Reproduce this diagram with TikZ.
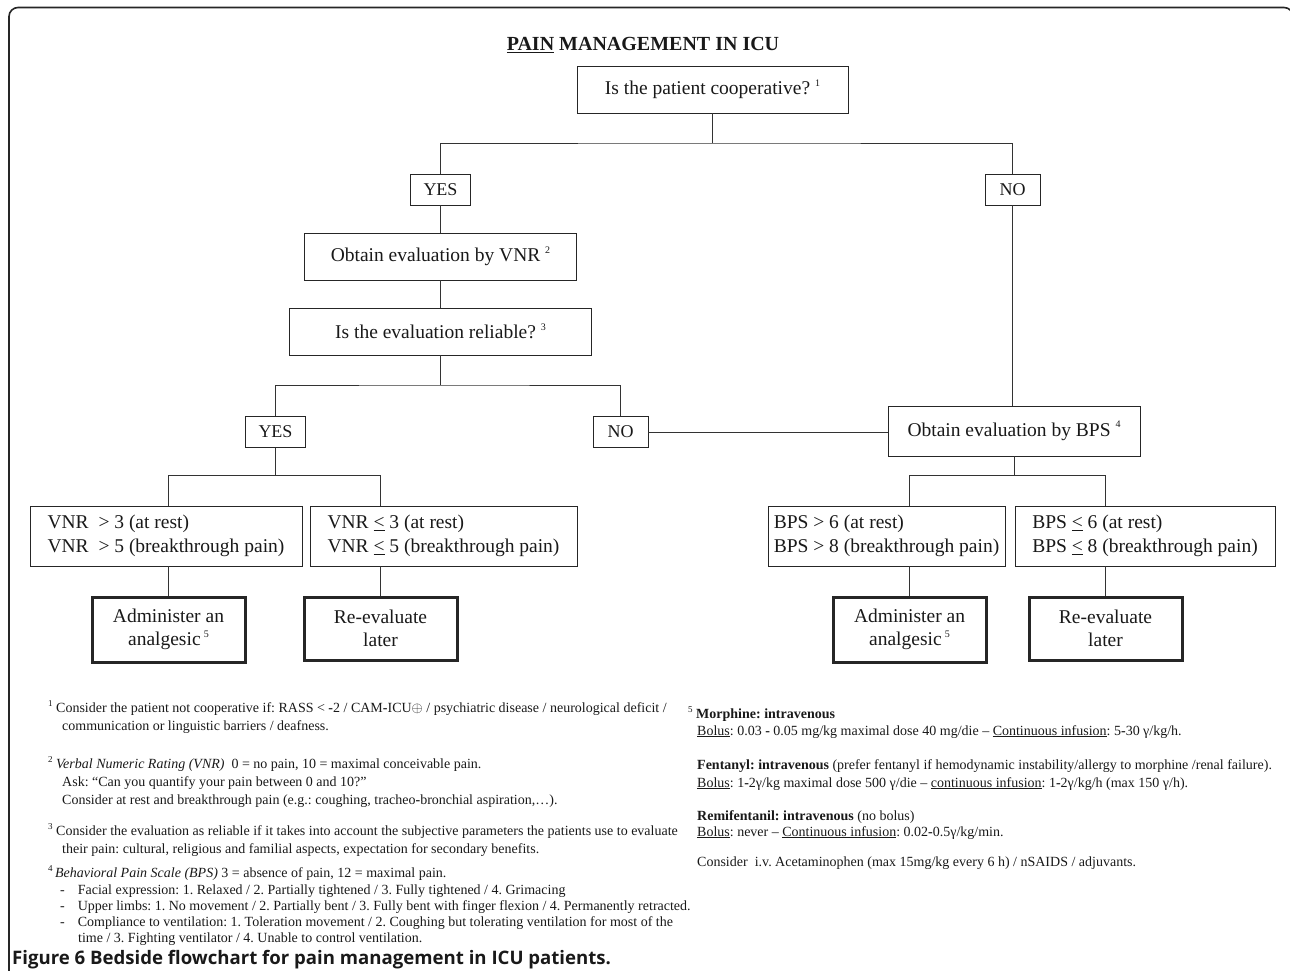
\documentclass[tikz,border=0pt]{standalone}
\usepackage{fontspec}
\setmainfont{Liberation Serif}
\newfontfamily\capfont{Open Sans}
\newcommand\boxsup[1]{\raisebox{8.5pt}{\fontsize{10}{10}\selectfont #1}}
\newcommand\fnsup[1]{\raisebox{5.5pt}{\fontsize{9}{9}\selectfont #1}}
\frenchspacing
\begin{document}
\begin{tikzpicture}[x=1pt,y=-1pt,
  box/.style={draw=black!85, line width=0.9pt, inner sep=0pt, align=center,
    font=\fontsize{19.5}{23.5}\selectfont, text=black!90},
  thickbox/.style={box, line width=3pt},
  yn/.style={box, font=\fontsize{18}{22}\selectfont},
  conn/.style={draw=black!80, line width=0.9pt},
  fnt/.style={anchor=base west, inner sep=0pt, font=\fontsize{14}{17}\selectfont, text=black!90}]
\useasboundingbox (0,0) rectangle (1290,970);
% frame
\draw[line width=1.6pt, black!85, rounded corners=9] (9,980) -- (9,7.5) -- (1293,7.5) -- (1293,980);
% title
\node[inner sep=0pt, font=\bfseries\fontsize{20}{24}\selectfont, text=black!90] (title) at (643,45) {\underline{PAIN} MANAGEMENT IN ICU};
% boxes
\node[box, minimum width=271, minimum height=47] (A) at (712.5,89.5) {Is the patient cooperative? \boxsup{1}};
\node[yn, minimum width=60, minimum height=31] (YES1) at (440.5,189.5) {YES};
\node[yn, minimum width=55, minimum height=31] (NO1) at (1012.5,189.5) {NO};
\node[box, minimum width=272, minimum height=47] (VNR) at (440.5,256.5) {Obtain evaluation by VNR \boxsup{2}};
\node[box, minimum width=302, minimum height=47] (REL) at (440.5,331.5) {Is the evaluation reliable? \boxsup{3}};
\node[yn, minimum width=60, minimum height=31] (YES2) at (275.5,432) {YES};
\node[yn, minimum width=55, minimum height=31] (NO2) at (620.5,432) {NO};
\node[box, minimum width=252, minimum height=50] (BPS) at (1014,431) {Obtain evaluation by BPS \boxsup{4}};
\node[box, minimum width=272, minimum height=60, align=left] (C1) at (166,536) {VNR\ \ > 3 (at rest)\\VNR\ \ > 5 (breakthrough pain)};
\node[box, minimum width=267, minimum height=60, align=left] (C2) at (443.5,536) {VNR \underline{<} 3 (at rest)\\VNR \underline{<} 5 (breakthrough pain)};
\node[box, minimum width=237, minimum height=60, align=left] (C3) at (886.5,536) {BPS > 6 (at rest)\\BPS > 8 (breakthrough pain)};
\node[box, minimum width=260, minimum height=60, align=left] (C4) at (1145,536) {BPS \underline{<} 6 (at rest)\\BPS \underline{<} 8 (breakthrough pain)};
\node[thickbox, minimum width=153, minimum height=65] (D1) at (168.5,629.5) {Administer an\\analgesic\,\boxsup{5}};
\node[thickbox, minimum width=153, minimum height=63] (D2) at (380.5,628.5) {Re-evaluate\\later};
\node[thickbox, minimum width=153, minimum height=65] (D3) at (909.5,629.5) {Administer an\\analgesic\,\boxsup{5}};
\node[thickbox, minimum width=153, minimum height=63] (D4) at (1105.5,628.5) {Re-evaluate\\later};
% connectors
\coordinate (j1) at (712.5,143);
\coordinate (j2) at (440.5,385);
\coordinate (j3) at (1010,475);
\coordinate (j4) at (275.5,475);
\draw[conn] (A.south) -- (j1);
\draw[conn] (YES1.north) |- (j1) -| (NO1.north);
\draw[conn] (YES1.south) -- (VNR.north);
\draw[conn] (VNR.south) -- (REL.north);
\draw[conn] (REL.south) -- (j2);
\draw[conn] (YES2.north) |- (j2) -| (NO2.north);
\draw[conn] (NO2.east) -- (NO2.east -| BPS.west);
\draw[conn] (NO1.south) -- (NO1.south |- BPS.north);
\draw[conn] (BPS.south) -- (BPS.south |- j3);
\draw[conn] (D3.north |- j3) -- (D4.north |- j3);
\draw[conn] (YES2.south) -- (j4);
\draw[conn] (D1.north |- j4) -- (D2.north |- j4);
\foreach \d/\c/\j in {D1/C1/j4, D2/C2/j4, D3/C3/j3, D4/C4/j3}{
  \draw[conn] (\d.north |- \j) -- (\d.north |- \c.north);
  \draw[conn] (\d.north |- \c.south) -- (\d.north);
}
% footnotes left
\node[fnt] (f1a) at (48,712) {\fnsup{1} Consider the patient not cooperative if: RASS < \textbf{-}2 / CAM\textbf{-}ICU$\oplus$ / psychiatric disease / neurological deficit /};
\node[fnt] (f1b) at (62,730) {communication or linguistic barriers / deafness.};
\node[fnt] (f2a) at (48,768) {\fnsup{2} \textit{Verbal Numeric Rating (VNR)}\ \ 0 = no pain, 10 = maximal conceivable pain.};
\node[fnt] (f2b) at (62,786) {Ask: “Can you quantify your pain between 0 and 10?”};
\node[fnt] (f2c) at (62,804) {Consider at rest and breakthrough pain (e.g.: coughing, tracheo\textbf{-}bronchial aspiration,…).};
\node[fnt] (f3a) at (48,835) {\fnsup{3} Consider the evaluation as reliable if it takes into account the subjective parameters the patients use to evaluate};
\node[fnt] (f3b) at (62,853) {their pain: cultural, religious and familial aspects, expectation for secondary benefits.};
\node[fnt] (f4a) at (48,877) {\fnsup{4}\,\textit{Behavioral Pain Scale (BPS)} 3 = absence of pain, 12 = maximal pain.};
\node[fnt] (f4b) at (60,894) {-\hspace{13pt}Facial expression: 1. Relaxed / 2. Partially tightened / 3. Fully tightened / 4. Grimacing};
\node[fnt] (f4c) at (60,910) {-\hspace{13pt}Upper limbs: 1. No movement / 2. Partially bent / 3. Fully bent with finger flexion / 4. Permanently retracted.};
\node[fnt] (f4d) at (60,926) {-\hspace{13pt}Compliance to ventilation: 1. Toleration movement / 2. Coughing but tolerating ventilation for most of the};
\node[fnt] (f4e) at (78,942) {time / 3. Fighting ventilator / 4. Unable to control ventilation.};
% footnotes right
\node[fnt] (r1) at (688,718) {\fnsup{5} \textbf{Morphine: intravenous}};
\node[fnt] (r2) at (697,735) {\underline{Bolus}: 0.03 \textbf{-} 0.05 mg/kg maximal dose 40 mg/die – \underline{Continuous infusion}: 5\textbf{-}30 γ/kg/h.};
\node[fnt] (r3) at (697,769) {\textbf{Fentanyl: intravenous} (prefer fentanyl if hemodynamic instability/allergy to morphine /renal failure).};
\node[fnt] (r4) at (697,787) {\underline{Bolus}: 1\textbf{-}2γ/kg maximal dose 500 γ/die – \underline{continuous infusion}: 1\textbf{-}2γ/kg/h (max 150 γ/h).};
\node[fnt] (r5) at (697,820) {\textbf{Remifentanil: intravenous} (no bolus)};
\node[fnt] (r6) at (697,836) {\underline{Bolus}: never – \underline{Continuous infusion}: 0.02\textbf{-}0.5γ/kg/min.};
\node[fnt] (r7) at (697,866) {Consider\ \ i.v. Acetaminophen (max 15mg/kg every 6 h) / nSAIDS / adjuvants.};
% caption
\node[anchor=base west, inner sep=0pt, font=\capfont\bfseries\fontsize{18.6}{22}\selectfont, text=black!90] (cap) at (12,964.5) {Figure 6 Bedside flowchart for pain management in ICU patients.};
\end{tikzpicture}
\end{document}
